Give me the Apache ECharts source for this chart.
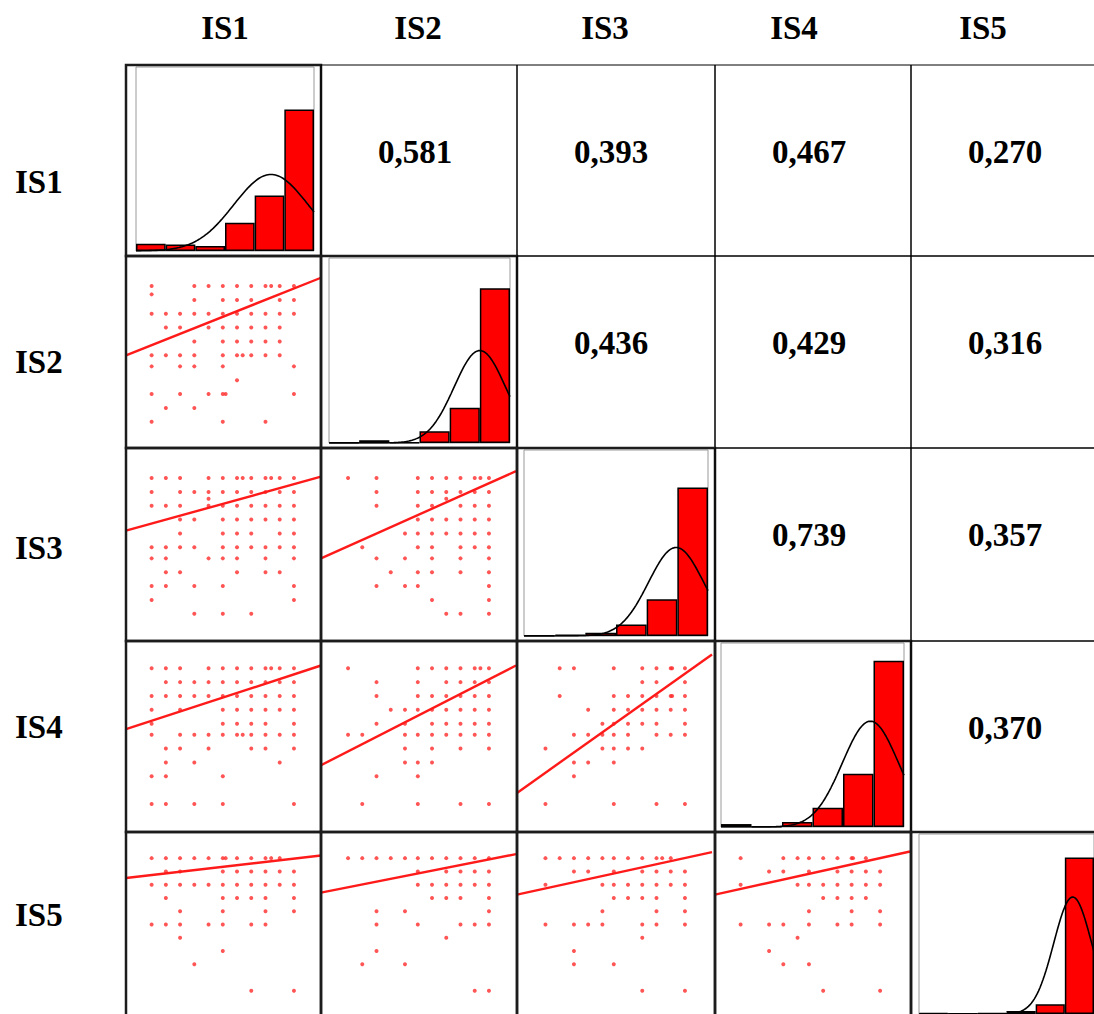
<!DOCTYPE html>
<html>
<head>
<meta charset="utf-8">
<script src="https://cdn.jsdelivr.net/npm/echarts/dist/echarts.min.js"></script>
<style>
  html, body { margin: 0; padding: 0; background: #fff; }
  #main { width: 1094px; height: 1014px; }
</style>
</head>
<body>
<div id="main"></div>
<script>
// variable names
const labels = ['IS1', 'IS2', 'IS3', 'IS4', 'IS5'];

// correlations in the upper triangle: [row, col, text]
const corr = [
  [0, 1, '0,581'], [0, 2, '0,393'], [0, 3, '0,467'], [0, 4, '0,270'],
  [1, 2, '0,436'], [1, 3, '0,429'], [1, 4, '0,316'],
  [2, 3, '0,739'], [2, 4, '0,357'],
  [3, 4, '0,370']
];

// histogram bins (percent of panel height), six bins each
const binLabels = ['1', '2', '3', '4', '5', '6'];
const hist1 = [4, 3.6, 2.7, 15.4, 30.2, 76.9];
const hist2 = [0.4, 1.5, 0.3, 6.3, 19, 83.6];
const hist3 = [0.2, 0.7, 1.8, 6.2, 19.8, 79.8];
const hist4 = [1.6, 0.3, 2.7, 10.5, 29, 90.4];
const hist5 = [0.5, 0.2, 0.5, 1.6, 5.4, 87];

// fitted normal curve: mean / sd (in bin units), peak height
const normMean = [4.55, 5.0, 4.96, 4.9, 5.27];
const normSd = [1.25, 0.85, 0.9, 0.92, 0.65];
const normPeak = [41.6, 50, 47.6, 57.5, 65];

// scatter points grouped by y level: [y, [x values]]
const s21 = [
  [11, [1, 4, 5, 6, 7, 8, 9, 9.4, 10, 11]],
  [10.4, [1]],
  [10, [4, 6, 7, 8, 10, 11]],
  [9, [1, 2, 3, 4, 5, 6, 7, 8, 9, 10, 11]],
  [8, [2, 3, 5, 6, 7, 8, 9, 10]],
  [7, [4, 6, 7, 8, 9, 10]],
  [6, [1, 2, 3, 4, 6, 7, 7.4, 8, 9, 10]],
  [5.2, [1, 3, 4, 6, 11]],
  [4.2, [7]],
  [3.2, [1, 3, 5, 6, 6.2, 11]],
  [2.2, [2, 4]],
  [1.2, [1, 6, 9]]
];
const s31 = [
  [11, [1, 2, 3, 5, 6, 7, 7.4, 8, 9, 9.4, 10, 11]],
  [10, [1, 3, 4, 5, 6, 7, 8, 9, 10, 11]],
  [9.5, [5]],
  [9, [1, 2, 3, 5, 6, 7, 8, 9, 10, 11]],
  [8, [3, 4, 6, 7, 8, 9, 10, 11]],
  [7, [3, 6, 7, 8, 10, 11]],
  [6, [1, 2, 3, 4, 6, 7, 8, 9, 10, 11]],
  [5.2, [1, 2, 5, 6, 7, 9, 11]],
  [4.2, [2, 3, 7, 9, 10]],
  [3.2, [1, 2, 4, 6, 11]],
  [2.2, [1, 11]],
  [1.2, [4, 6, 8]]
];
const s32 = [
  [11, [1.1, 3.1, 6, 7, 8, 9, 10, 10.4, 11]],
  [10, [3.1, 6, 7, 8, 9, 10, 11]],
  [9.5, [8]],
  [9, [3.1, 6, 7, 9, 10, 11]],
  [8, [6, 7, 8, 9, 10, 11]],
  [7, [5.1, 6, 7, 8, 9, 10, 11]],
  [6, [2.1, 6, 7, 9, 10, 11]],
  [5.2, [3.1, 5.1, 7, 9, 11]],
  [4.2, [4.1, 6, 7, 9, 11]],
  [3.2, [3.1, 5.1, 6, 11]],
  [2.2, [7, 11]],
  [1.2, [8, 9, 11]]
];
const s41 = [
  [11.2, [1, 2, 3, 5, 6, 7, 8, 9, 9.4, 10, 11]],
  [10.2, [2, 3, 4, 5, 6, 7, 8, 9, 10, 11]],
  [9.2, [1, 2, 3, 4, 5, 6, 7, 8, 9, 10, 11]],
  [8.2, [1, 3, 6, 7, 8, 9, 10, 11]],
  [7.2, [1, 6, 7, 8, 9, 11]],
  [6.4, [1, 3, 4, 5, 6, 7, 7.4, 8, 9, 10, 11]],
  [5.4, [2, 3, 5, 8, 9, 11]],
  [4.4, [2, 4, 10]],
  [3.4, [1, 2, 6]],
  [1.4, [1, 2, 4, 6, 11]]
];
const s42 = [
  [11.2, [1.1, 6, 7, 8, 9, 10, 10.4, 11]],
  [10.2, [3.1, 6, 8, 9, 10, 11]],
  [9.2, [3.1, 6, 7, 8, 9, 10, 11]],
  [8.2, [4.1, 5.1, 6, 7, 8, 9, 10, 11]],
  [7.2, [3.1, 5.1, 7, 8, 9, 10, 11]],
  [6.4, [1.1, 2.1, 5.1, 6, 7, 8, 9, 10, 11]],
  [5.4, [5.1, 7, 9, 11]],
  [4.4, [5.1, 6, 7]],
  [3.4, [3.1, 6]],
  [1.4, [2.1, 6, 9, 11]]
];
const s43 = [
  [11.2, [2.2, 3.2, 6, 8, 9, 10, 10.1, 11]],
  [10.2, [8, 9, 11]],
  [9.2, [2.2, 6, 7, 8, 9, 10, 10.1, 11]],
  [8.2, [4.2, 6, 7, 8, 9, 10, 11]],
  [7.2, [5.2, 6, 7, 8, 9, 11]],
  [6.4, [3.2, 4.2, 5.2, 6, 7, 9, 10, 11]],
  [5.4, [1.2, 5.2, 6, 7, 8]],
  [4.4, [3.2, 4.2, 6]],
  [3.4, [3.2]],
  [1.4, [1.2, 6, 9, 11]]
];
const s51 = [
  [11.2, [1, 2, 3, 4, 5, 6, 6.2, 7, 8, 9, 9.4, 10]],
  [10.2, [2, 3, 6, 7, 8, 9, 10, 11]],
  [9.2, [1, 2, 3, 4, 5, 6, 7, 8, 9, 10, 11]],
  [8.2, [2, 6, 7, 8, 9, 11]],
  [7.2, [3, 6, 9, 11]],
  [6.2, [1, 2, 3, 5, 6, 8, 9]],
  [5.2, [3]],
  [4.2, [6]],
  [3.2, [4]],
  [1.2, [8, 11]]
];
const s52 = [
  [11.2, [1.1, 2.1, 3.1, 4.1, 5.1, 6, 7, 8, 9, 10, 11]],
  [10.2, [6, 8, 9, 10, 11]],
  [9.2, [6, 7, 8, 9, 10, 11]],
  [8.2, [7, 8, 9, 11]],
  [7.2, [3.1, 5.1, 11]],
  [6.2, [3.1, 6, 9, 10, 11]],
  [5.2, [8]],
  [4.2, [3.1]],
  [3.2, [2.1, 5.1]],
  [1.2, [10, 11]]
];
const s53 = [
  [11.2, [1.2, 2.2, 3.2, 4.2, 5.2, 6, 7, 8, 9, 9.4, 10]],
  [10.2, [3.2, 4.2, 6, 8, 9, 10, 11]],
  [9.2, [1.2, 5.2, 6, 7, 8, 9, 10, 11]],
  [8.2, [6, 7, 8, 9, 11]],
  [7.2, [5.2, 9, 11]],
  [6.2, [1.2, 3.2, 4.2, 5.2, 8, 9, 11]],
  [5.2, [8]],
  [4.2, [3.2]],
  [3.2, [3.2, 6]],
  [1.2, [8, 11]]
];
const s54 = [
  [11.2, [1, 4, 5, 5.8, 6.8, 7.8, 8.8, 8.9, 9.8]],
  [10.2, [3, 4, 5.8, 7.8, 8.8, 9.8, 10.8]],
  [9.2, [1, 5, 5.8, 6.8, 7.8, 8.8, 9.8, 10.8]],
  [8.2, [6.8, 7.8, 8.8, 9.8]],
  [7.2, [5.8, 8.8, 10.8]],
  [6.2, [1, 3, 4, 5.8, 7.8, 8.8, 10.8]],
  [5.2, [5]],
  [4.2, [3]],
  [3.2, [4, 5.8]],
  [1.2, [6.8, 10.8]]
];

// regression line: y at left edge, y at right edge
const fitX = [-0.8, 12.9];
const fit21 = [6.0, 11.6];
const fit31 = [7.2, 11.1];
const fit32 = [5.2, 11.5];
const fit41 = [6.8, 11.4];
const fit42 = [4.2, 11.4];
const fit43 = [2.2, 12.2];
const fit51 = [9.7, 11.4];
const fit52 = [8.6, 11.5];
const fit53 = [8.45, 11.65];
const fit54 = [8.45, 11.7];

// ---- layout ----
const colLeft = [126, 321, 517, 715, 911];
const rowTop = [65, 256, 448, 641, 832];
const colW = [195, 196, 198, 196, 196];
const rowH = [191, 192, 193, 191, 190];
const histInsetL = [10, 8, 7, 6, 8];
const headX = [225, 418, 605, 794, 983];
const rowLabelY = [182, 362, 548, 727, 915];
const FONT = 'bold 33px "Liberation Serif", "Times New Roman", serif';

const lower = [
  [1, 0, s21, fit21], [2, 0, s31, fit31], [2, 1, s32, fit32],
  [3, 0, s41, fit41], [3, 1, s42, fit42], [3, 2, s43, fit43],
  [4, 0, s51, fit51], [4, 1, s52, fit52], [4, 2, s53, fit53], [4, 3, s54, fit54]
];
const hists = [hist1, hist2, hist3, hist4, hist5];

var grids = [], xAxes = [], yAxes = [], series = [], graphics = [];

function flatten(rows) {
  var out = [];
  rows.forEach(function (r) { r[1].forEach(function (x) { out.push([x, r[0]]); }); });
  return out;
}

// scatter panels
lower.forEach(function (c) {
  var r = c[0], k = c[1];
  var gi = grids.length;
  grids.push({ left: colLeft[k], top: rowTop[r], width: 195, height: 190, show: false });
  xAxes.push({ type: 'value', gridIndex: gi, min: -0.8, max: 12.9, show: false });
  yAxes.push({ type: 'value', gridIndex: gi, min: -0.55, max: 13.17, show: false });
  var ai = xAxes.length - 1;
  series.push({
    type: 'scatter', xAxisIndex: ai, yAxisIndex: ai, data: flatten(c[2]),
    symbol: 'circle', symbolSize: 4, itemStyle: { color: '#ff2a2a' }, silent: true
  });
  series.push({
    type: 'line', xAxisIndex: ai, yAxisIndex: ai,
    data: [[fitX[0], c[3][0]], [fitX[1], c[3][1]]],
    symbol: 'none', lineStyle: { color: '#ff1a1a', width: 2.4 }, silent: true
  });
});

// histogram panels on the diagonal
hists.forEach(function (h, i) {
  var gi = grids.length;
  grids.push({
    left: colLeft[i] + histInsetL[i], top: rowTop[i] + 2,
    width: colW[i] - histInsetL[i] - 7, height: rowH[i] - 7,
    show: true, borderColor: '#9a9a9a', borderWidth: 1
  });
  xAxes.push({ type: 'category', gridIndex: gi, data: binLabels, boundaryGap: true, show: false });
  var catIdx = xAxes.length - 1;
  xAxes.push({ type: 'value', gridIndex: gi, min: 0, max: 6, show: false });
  var valIdx = xAxes.length - 1;
  yAxes.push({ type: 'value', gridIndex: gi, min: 0, max: 100, show: false });
  var yi = yAxes.length - 1;
  series.push({
    type: 'bar', xAxisIndex: catIdx, yAxisIndex: yi, data: h,
    barCategoryGap: '0%', silent: true,
    itemStyle: { color: '#ff0000', borderColor: '#000', borderWidth: 1.5 }
  });
  var curve = [];
  for (var n = 0; n <= 120; n++) {
    var x = n * 6 / 120;
    var d = (x - normMean[i]) / normSd[i];
    curve.push([x, normPeak[i] * Math.exp(-0.5 * d * d)]);
  }
  series.push({
    type: 'line', xAxisIndex: valIdx, yAxisIndex: yi, data: curve,
    symbol: 'none', lineStyle: { color: '#000', width: 1.6 }, silent: true
  });
});

// cell borders
for (var r = 0; r < 5; r++) {
  for (var k = 0; k < 5; k++) {
    var upper = k > r;
    graphics.push({
      type: 'rect', z: 100, silent: true,
      shape: { x: colLeft[k], y: rowTop[r], width: colW[k], height: rowH[r] },
      style: { fill: 'none', stroke: upper ? '#000' : '#1c1c1c', lineWidth: upper ? 1 : 2.5 }
    });
  }
}

// correlation texts
corr.forEach(function (c) {
  graphics.push({
    type: 'text', z: 101, silent: true,
    style: {
      text: c[2], x: colLeft[c[1]] + 94, y: rowTop[c[0]] + 87,
      font: FONT, fill: '#000',
      align: 'center', verticalAlign: 'middle',
      textAlign: 'center', textVerticalAlign: 'middle'
    }
  });
});

// headers and row labels
labels.forEach(function (name, i) {
  graphics.push({
    type: 'text', z: 101, silent: true,
    style: {
      text: name, x: headX[i], y: 28, font: FONT, fill: '#000',
      align: 'center', verticalAlign: 'middle',
      textAlign: 'center', textVerticalAlign: 'middle'
    }
  });
  graphics.push({
    type: 'text', z: 101, silent: true,
    style: {
      text: name, x: 15, y: rowLabelY[i], font: FONT, fill: '#000',
      align: 'left', verticalAlign: 'middle',
      textAlign: 'left', textVerticalAlign: 'middle'
    }
  });
});

var chart = echarts.init(document.getElementById('main'), null, { renderer: 'svg' });
chart.setOption({
  backgroundColor: '#fff',
  animation: false,
  grid: grids,
  xAxis: xAxes,
  yAxis: yAxes,
  series: series,
  graphic: { elements: graphics }
});
</script>
</body>
</html>
